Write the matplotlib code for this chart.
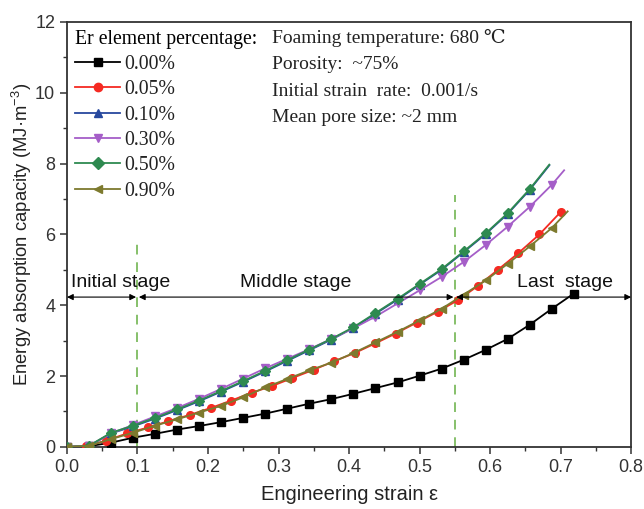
import matplotlib
matplotlib.use("Agg")
import matplotlib.pyplot as plt
from matplotlib.ticker import MultipleLocator, FormatStrFormatter

# ---------------- data ----------------
grid = [0.0, 0.03125, 0.0625, 0.09375, 0.125, 0.15625, 0.1875, 0.21875, 0.25,
        0.28125, 0.3125, 0.34375, 0.375, 0.40625, 0.4375, 0.46875, 0.5,
        0.53125, 0.5625, 0.59375, 0.625, 0.65625, 0.6875, 0.71875]

x_000 = grid
y_000 = [0.0, 0.02, 0.12, 0.26, 0.37, 0.49, 0.59, 0.70, 0.82, 0.94, 1.08, 1.22,
         1.35, 1.50, 1.66, 1.82, 2.01, 2.21, 2.46, 2.74, 3.05, 3.45, 3.90, 4.33]

x_005 = [0.0, 0.027, 0.056, 0.085, 0.115, 0.143, 0.175, 0.204, 0.233, 0.262,
         0.291, 0.319, 0.350, 0.379, 0.408, 0.437, 0.466, 0.496, 0.526, 0.555,
         0.583, 0.611, 0.640, 0.670, 0.700]
y_005 = [0.0, 0.02, 0.18, 0.38, 0.55, 0.72, 0.91, 1.10, 1.31, 1.53, 1.72, 1.94,
         2.18, 2.42, 2.65, 2.92, 3.20, 3.51, 3.82, 4.15, 4.55, 5.00, 5.47, 6.00, 6.63]

x_010 = grid[:22] + [0.684]
y_010 = [0.0, 0.03, 0.38, 0.58, 0.80, 1.04, 1.29, 1.56, 1.84, 2.13, 2.43, 2.73,
         3.03, 3.36, 3.76, 4.16, 4.58, 5.00, 5.50, 6.01, 6.58, 7.26, 7.95]

x_030 = grid[:23] + [0.705]
y_030 = [0.0, 0.03, 0.38, 0.62, 0.86, 1.10, 1.36, 1.64, 1.93, 2.22, 2.49, 2.76,
         3.05, 3.35, 3.68, 4.05, 4.42, 4.80, 5.22, 5.70, 6.22, 6.78, 7.40, 7.81]

x_050 = grid[:22] + [0.684]
y_050 = [0.0, 0.03, 0.40, 0.60, 0.82, 1.06, 1.31, 1.58, 1.86, 2.15, 2.45, 2.75,
         3.05, 3.38, 3.78, 4.18, 4.60, 5.02, 5.52, 6.03, 6.60, 7.28, 7.97]

x_090 = grid[:23] + [0.710]
y_090 = [0.0, 0.03, 0.22, 0.40, 0.60, 0.78, 0.97, 1.16, 1.40, 1.68, 1.92, 2.16,
         2.38, 2.65, 2.95, 3.25, 3.57, 3.90, 4.30, 4.70, 5.17, 5.66, 6.18, 6.65]

labels = ["0.00%", "0.05%", "0.10%", "0.30%", "0.50%", "0.90%"]
colors = ["#000000", "#f52a22", "#27489e", "#a55ec8", "#2e8a50", "#7d7a2e"]
markers = ["s", "o", "^", "v", "D", "<"]
xs = [x_000, x_005, x_010, x_030, x_050, x_090]
ys = [y_000, y_005, y_010, y_030, y_050, y_090]
# markers are not drawn on the unmarked line tails
ends_marked = [True, True, False, False, False, False]

stage_names = ["Initial stage", "Middle stage", "Last  stage"]
info_lines = ["Foaming temperature: 680 \u2103", "Porosity:  ~75%",
              "Initial strain  rate:  0.001/s", "Mean pore size: ~2 mm"]

# ---------------- figure ----------------
SANS = "Liberation Sans"
SERIF = "Liberation Serif"
plt.rcParams["font.family"] = [SANS, "DejaVu Sans"]
plt.rcParams["mathtext.fontset"] = "custom"
plt.rcParams["mathtext.rm"] = SANS
plt.rcParams["mathtext.it"] = SANS + ":italic"

fig = plt.figure(figsize=(6.44, 5.09), dpi=100)
ax = fig.add_axes([0.104, 0.122, 0.876, 0.835])

for x, y, c, m, lab, em in zip(xs, ys, colors, markers, labels, ends_marked):
    ax.plot(x, y, color=c, lw=1.3, zorder=3)
    xm = x if em else x[:-1]
    ym = y if em else y[:-1]
    ax.plot(xm, ym, ls="none", marker=m, color=c, ms=5.5 if m != "D" else 5, zorder=3)
    ax.plot([], [], color=c, lw=1.3, marker=m, ms=6, label=lab)

# dashed stage borders
ax.plot([0.1, 0.1], [0, 5.8], ls=(0, (5, 4)), color="#86c06a", lw=1.4, zorder=2)
ax.plot([0.55, 0.55], [0, 7.1], ls=(0, (5, 4)), color="#86c06a", lw=1.4, zorder=2)

# stage arrows
arrow_y = 4.23
gaps = [(0.0, 0.098), (0.102, 0.548), (0.552, 0.8)]
for (a, b) in gaps:
    ax.annotate("", xy=(a, arrow_y), xytext=(b, arrow_y),
                arrowprops=dict(arrowstyle="<|-|>", color="black", lw=0.8,
                                mutation_scale=9, shrinkA=0, shrinkB=0),
                zorder=4)
stage_x = [0.005, 0.245, 0.638]
for sx, name in zip(stage_x, stage_names):
    ax.text(sx, 4.52, name, fontsize=14, family=SANS, ha="left", va="baseline",
            color="#111111", zorder=5)

# info text
info_y = [0.962, 0.899, 0.837, 0.776]
for iy, line in zip(info_y, info_lines):
    ax.text(0.364, iy, line, transform=ax.transAxes, fontsize=14,
            family=[SERIF, "DejaVu Serif", "Noto Sans CJK SC"],
            ha="left", va="center", color="#222222")

leg = ax.legend(loc="upper left", bbox_to_anchor=(0.0, 1.0), frameon=False,
                title="Er element percentage:", handlelength=2.3,
                handletextpad=0.2, labelspacing=0.32, borderaxespad=0.15,
                borderpad=0.25,
                prop={"family": SERIF, "size": 14.2},
                title_fontproperties={"family": SERIF, "size": 14.2})
leg._legend_box.align = "left"
for t in leg.get_texts():
    t.set_color("#222222")

ax.set_xlim(0, 0.8)
ax.set_ylim(0, 12)
ax.xaxis.set_major_locator(MultipleLocator(0.1))
ax.xaxis.set_minor_locator(MultipleLocator(0.05))
ax.yaxis.set_major_locator(MultipleLocator(2))
ax.yaxis.set_minor_locator(MultipleLocator(1))
ax.xaxis.set_major_formatter(FormatStrFormatter("%.1f"))
ax.tick_params(which="major", direction="out", length=5, width=1.1,
               labelsize=13, colors="#333333", top=False, right=False)
ax.tick_params(which="minor", direction="out", length=3, width=1.0,
               top=False, right=False, colors="#333333")
for s in ax.spines.values():
    s.set_linewidth(1.3)
    s.set_color("#333333")

ax.set_xlabel("Engineering strain \u03b5", fontsize=14.5, color="#222222", labelpad=7)
ax.set_ylabel("Energy absorption capacity (MJ\u00b7m$^{-3}$)", fontsize=13.3,
              color="#222222")
ax.yaxis.set_label_coords(-0.058, 0.5)

fig.savefig("out.png", dpi=100)
